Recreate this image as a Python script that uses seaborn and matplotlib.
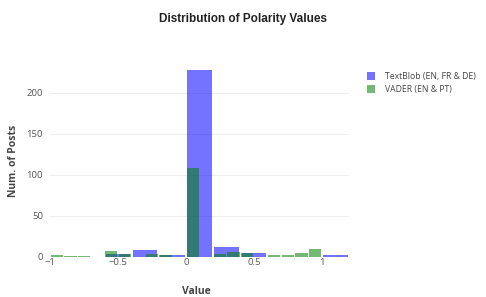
import numpy as np
import pandas as pd
import matplotlib
matplotlib.use('Agg')
import matplotlib.pyplot as plt
import seaborn as sns
from matplotlib.patches import Patch

# Bin counts
tb_edges = [-1.0, -0.8, -0.6, -0.4, -0.2, 0.0, 0.2, 0.4, 0.6, 0.8, 1.0, 1.2]
tb_counts = [0, 0, 4, 8, 2, 228, 12, 5, 0, 0, 3]

vd_edges = [round(-1.0 + 0.1 * i, 1) for i in range(21)]
vd_counts = [3, 1, 1, 0, 7, 4, 0, 4, 2, 0,
             109, 0, 4, 6, 5, 0, 2, 3, 5, 10]

series_labels = ['TextBlob (EN, FR & DE)', 'VADER (EN & PT)']
x_ticks = [-1, -0.5, 0, 0.5, 1]
x_ticklabels = ['\u22121', '\u22120.5', '0', '0.5', '1']
y_ticks = [0, 50, 100, 150, 200]

def centers(edges):
    e = np.array(edges)
    return (e[:-1] + e[1:]) / 2

tb = pd.DataFrame({'value': centers(tb_edges), 'count': tb_counts})
vd = pd.DataFrame({'value': centers(vd_edges), 'count': vd_counts})

sns.set_theme(style='white')
plt.rcParams['font.family'] = ['Open Sans', 'DejaVu Sans']

fig = plt.figure(figsize=(4.86, 2.97), dpi=100)
ax = fig.add_axes([50/486, 1 - 257/297, 299/486, 197/297])

for y in y_ticks[1:]:
    ax.axhline(y, color='#eeeeee', lw=0.8, zorder=0)

sns.histplot(data=tb, x='value', weights='count', bins=tb_edges, shrink=0.9,
             color='blue', alpha=0.55, linewidth=0, ax=ax, zorder=2)
sns.histplot(data=vd, x='value', weights='count', bins=vd_edges, shrink=0.9,
             color='green', alpha=0.55, linewidth=0, ax=ax, zorder=3)

ax.set_xlim(-1, 1.2)
ax.set_ylim(0, 240)
ax.set_xticks(x_ticks)
ax.set_xticklabels(x_ticklabels)
ax.set_yticks(y_ticks)
ax.tick_params(axis='both', length=0, labelsize=6.8, colors='#555555')
ax.tick_params(axis='y', pad=5)
ax.tick_params(axis='x', pad=1)
for s in ax.spines.values():
    s.set_visible(False)

ax.set_xlabel('Value', fontsize=7.5, fontweight='bold', color='#444444')
ax.set_ylabel('Num. of Posts', fontsize=7.5, fontweight='bold', color='#444444')
ax.xaxis.set_label_coords(0.49, -0.148)
ax.yaxis.set_label_coords(-0.104, 0.49)

fig.text(243/486, 1 - 19/297, 'Distribution of Polarity Values', ha='center', va='center',
         fontsize=8.5, fontweight='bold', color='#222222', family=['Liberation Sans', 'DejaVu Sans'])

handles = [Patch(facecolor='blue', alpha=0.55, edgecolor='none'),
           Patch(facecolor='green', alpha=0.55, edgecolor='none')]
fig.legend(handles, series_labels, loc='upper left', bbox_to_anchor=(359/486, 1 - 64/297),
           frameon=False, fontsize=6.2, handlelength=1.0, handleheight=1.0,
           handletextpad=1.1, labelspacing=0.45, labelcolor='#444444')

fig.savefig('out.png', dpi=100)
